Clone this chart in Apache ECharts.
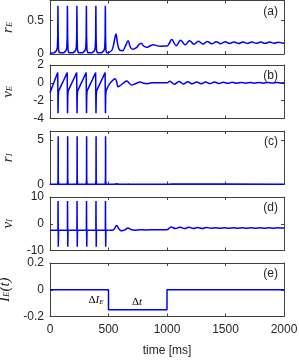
<!DOCTYPE html>
<html><head><meta charset="utf-8">
<script src="https://cdn.jsdelivr.net/npm/echarts@6/dist/echarts.min.js"></script>
<style>html,body{margin:0;padding:0;background:#fff}#c{width:299px;height:361px}</style>
</head><body><div id="c"></div>
<script>
// ---------- data ----------
const xTicks = [0, 500, 1000, 1500, 2000];
const yTicksA = [0, 0.5];
const yTicksB = [-4, -2, 0, 2];
const yTicksC = [0, 5];
const yTicksD = [-10, 0, 10];
const yTicksE = [-0.2, 0, 0.2];

// r_E : spiking part
const rE1_t = [0, 38,56,63,66,68,70,73,80, 119,137,144,147,149,151,154,161, 200,218,225,228,230,232,235,242,
  281,299,306,309,311,313,316,323, 362,380,387,390,392,394,397,404, 443,461,468,471,473,475,478,485, 500];
const rE1_v = [0.01, 0.02,0.05,0.1,0.25,0.72,0.25,0.06,0.02, 0.02,0.05,0.1,0.25,0.72,0.25,0.06,0.02,
  0.02,0.05,0.1,0.25,0.72,0.25,0.06,0.02, 0.02,0.05,0.1,0.25,0.72,0.25,0.06,0.02,
  0.02,0.05,0.1,0.25,0.72,0.25,0.06,0.02, 0.02,0.05,0.1,0.25,0.72,0.25,0.06,0.02, 0.02];
// r_E : oscillating part
const rE2_t = [500,530,548,564,578,595,620,645,668,685,705,735,760,780,800,825,855,880,910,940,970,1000,
  1020,1040,1078,1117,1155,1193,1231,1269,1307,1345,1383,1421,1459,1497,1535,1573,1611,1649,1687,1725,
  1763,1801,1839,1877,1915,1953,1990,2000];
const rE2_v = [0.02,0.06,0.18,0.30,0.15,0.06,0.05,0.12,0.20,0.11,0.07,0.09,0.14,0.16,0.12,0.10,0.12,0.14,0.125,0.115,0.12,0.12,
  0.16,0.215,0.125,0.205,0.138,0.197,0.145,0.192,0.149,0.188,0.152,0.185,0.154,0.183,0.156,0.181,0.157,0.18,0.158,0.179,
  0.16,0.178,0.16,0.178,0.161,0.177,0.162,0.17];

// v_E
const vE1_t = [0,66,69,71,74,110,147,150,152,155,191,228,231,233,236,272,309,312,314,317,353,390,393,395,398,434,471,474,476,479,500];
const vE1_v = [-1.1,1.15,-3.4,-1.5,-0.9,0.1,1.15,-3.4,-1.5,-0.9,0.1,1.15,-3.4,-1.5,-0.9,0.1,1.15,-3.4,-1.5,-0.9,0.1,1.15,-3.4,-1.5,-0.9,0.1,1.15,-3.4,-1.5,-0.9,-0.3];
const vE2_t = [500,530,556,570,582,600,630,655,675,698,730,770,800,830,870,900,950,1000,
  1025,1063,1102,1140,1178,1216,1254,1292,1330,1368,1406,1444,1482,1520,1558,1596,1634,1672,1710,1748,1786,1824,1862,1900,1938,1976,2000];
const vE2_v = [-0.3,0.2,0.45,0.1,-0.45,-0.3,0.0,0.2,0.0,-0.25,-0.1,0.08,-0.05,-0.1,0.0,0.02,0.0,0.0,
  0.18,-0.15,0.15,-0.13,0.12,-0.11,0.1,-0.09,0.09,-0.08,0.08,-0.07,0.07,-0.06,0.06,-0.05,0.05,-0.05,0.05,-0.04,0.04,-0.04,0.04,-0.03,0.03,-0.03,0.0];

// r_I
const rI1_t = [0, 66,69,70,71,74, 147,150,151,152,155, 228,231,232,233,236, 309,312,313,314,317, 390,393,394,395,398, 471,474,475,476,479, 500];
const rI1_v = [0.02, 0.02,0.5,5.4,0.5,0.02, 0.02,0.5,5.4,0.5,0.02, 0.02,0.5,5.4,0.5,0.02, 0.02,0.5,5.4,0.5,0.02, 0.02,0.5,5.4,0.5,0.02, 0.02,0.5,5.4,0.5,0.02, 0.02];
const rI2_t = [500,550,570,590,650,670,690,1000,1040,2000];
const rI2_v = [0.02,0.03,0.09,0.03,0.03,0.05,0.03,0.03,0.05,0.04];

// v_I
const vI1_t = [0, 68,69,71,73, 149,150,152,154, 230,231,233,235, 311,312,314,316, 392,393,395,397, 473,474,476,478, 500];
const vI1_v = [-2.4, -2.4,8.5,-8.6,-2.4, -2.4,8.5,-8.6,-2.4, -2.4,8.5,-8.6,-2.4, -2.4,8.5,-8.6,-2.4, -2.4,8.5,-8.6,-2.4, -2.4,8.5,-8.6,-2.4, -2.4];
const vI2_t = [500,540,570,590,610,640,667,690,720,770,820,900,1000,
  1035,1073,1111,1149,1187,1225,1263,1301,1339,1377,1415,1453,1491,1529,1567,1605,1643,1681,1719,1757,1795,1833,1871,1909,1947,1985,2000];
const vI2_v = [-2.4,-2.3,-0.7,-2.0,-2.6,-2.3,-1.6,-2.1,-2.4,-2.2,-2.3,-2.2,-2.2,
  -1.2,-1.8,-1.3,-1.8,-1.35,-1.75,-1.4,-1.75,-1.4,-1.7,-1.45,-1.7,-1.45,-1.7,-1.45,-1.7,-1.5,-1.65,-1.5,-1.65,-1.5,-1.65,-1.5,-1.65,-1.52,-1.63,-1.58];

// I_E(t)
const IE_t = [0,500,500,1000,1000,2000];
const IE_v = [0,0,-0.15,-0.15,0,0];

// annotation anchors (data coords in panel e)
const annDI = [393, -0.08];
const annDt = [744, -0.096];

// ---------- chart ----------
const zip = (t, v) => t.map((x, i) => [x, v[i]]);
const chart = echarts.init(document.getElementById('c'), null, {renderer: 'canvas'});
const TOPS = [0.5, 65, 131, 197, 263], H = 53.5, LEFT = 50, RIGHT = 15;
const axCol = '#404040', txtCol = '#262626';
const sans = 'Liberation Sans, Arial, Helvetica, sans-serif';
const serif = 'Liberation Serif, Times New Roman, serif';
const rich = {
  m: {fontFamily: serif, fontStyle: 'italic', fontSize: 15, color: txtCol, padding: [0, 0, 3, 0]},
  s: {fontFamily: serif, fontStyle: 'italic', fontSize: 9, color: txtCol},
  n: {fontFamily: serif, fontSize: 15, color: txtCol, padding: [0, 0, 3, 0]}
};
const panels = [
  {name: '{m|r}{s|E}', min: 0, max: 0.8, ticks: yTicksA, segs: [[rE1_t, rE1_v, false], [rE2_t, rE2_v, 0.4]], tag: '(a)'},
  {name: '{m|v}{s|E}', min: -4, max: 2, ticks: yTicksB, segs: [[vE1_t, vE1_v, false], [vE2_t, vE2_v, 0.4]], tag: '(b)'},
  {name: '{m|r}{s|I}', min: 0, max: 6, ticks: yTicksC, segs: [[rI1_t, rI1_v, false], [rI2_t, rI2_v, 0.3]], tag: '(c)'},
  {name: '{m|v}{s|I}', min: -10, max: 10, ticks: yTicksD, segs: [[vI1_t, vI1_v, false], [vI2_t, vI2_v, 0.4]], tag: '(d)'},
  {name: '{m|I}{s|E}{n|(}{m|t}{n|)}', min: -0.2, max: 0.2, ticks: yTicksE, segs: [[IE_t, IE_v, false]], tag: '(e)'}
];
const fmt = v => String(v);
const grid = [], xAxis = [], yAxis = [], series = [], graphic = [];
panels.forEach((p, i) => {
  grid.push({left: LEFT, right: RIGHT, top: TOPS[i], height: H, containLabel: false, outerBoundsMode: 'none'});
  const last = i === panels.length - 1;
  const xBase = {type: 'value', gridIndex: i, min: 0, max: 2000, splitLine: {show: false},
    axisLine: {show: true, onZero: false, lineStyle: {color: axCol, width: 1}},
    axisTick: {show: true, inside: true, length: 3, customValues: xTicks, lineStyle: {color: axCol, width: 1}}};
  xAxis.push(Object.assign({}, xBase, {position: 'bottom',
    axisLabel: {show: last, customValues: xTicks, formatter: fmt, margin: 7, fontSize: 12, fontFamily: sans, color: txtCol},
    name: last ? 'time [ms]' : '', nameLocation: 'middle', nameGap: 28,
    nameTextStyle: {fontSize: 12, fontFamily: sans, color: txtCol}}));
  xAxis.push(Object.assign({}, xBase, {position: 'top', axisLabel: {show: false}}));
  const yBase = {type: 'value', gridIndex: i, min: p.min, max: p.max, splitLine: {show: false},
    axisLine: {show: true, onZero: false, lineStyle: {color: axCol, width: 1}},
    axisTick: {show: true, inside: true, length: 3, customValues: p.ticks, lineStyle: {color: axCol, width: 1}}};
  yAxis.push(Object.assign({}, yBase, {position: 'left',
    axisLabel: {show: true, customValues: p.ticks, formatter: fmt, margin: 6, fontSize: 12, fontFamily: sans, color: txtCol},
    name: p.name, nameLocation: 'middle', nameGap: 31, nameRotate: 90,
    nameTextStyle: {rich: rich, fontFamily: serif, fontStyle: 'italic'}}));
  yAxis.push(Object.assign({}, yBase, {position: 'right', axisLabel: {show: false}}));
  p.segs.forEach(s => {
    series.push({type: 'line', xAxisIndex: 2 * i, yAxisIndex: 2 * i, data: zip(s[0], s[1]),
      showSymbol: false, smooth: s[2], lineStyle: {color: '#0000ff', width: 1.5}, silent: true, animation: false});
  });
  graphic.push({type: 'text', id: 'tag' + i, right: 299 - 278, top: TOPS[i] + 5,
    style: {text: p.tag, fontSize: 12, fontFamily: sans, fill: txtCol}});
});
chart.setOption({animation: false, grid, xAxis, yAxis, series, graphic: {elements: graphic}});

const annRich = {
  n: {fontFamily: serif, fontSize: 11, color: txtCol},
  m: {fontFamily: serif, fontStyle: 'italic', fontSize: 11, color: txtCol},
  s: {fontFamily: serif, fontStyle: 'italic', fontSize: 7, color: txtCol, padding: [4, 0, 0, 0]}
};
const p1 = chart.convertToPixel({xAxisIndex: 8, yAxisIndex: 8}, annDI);
const p2 = chart.convertToPixel({xAxisIndex: 8, yAxisIndex: 8}, annDt);
chart.setOption({graphic: {elements: [
  {type: 'text', id: 'annDI', x: p1[0], y: p1[1], style: {text: '{n|Δ}{m|I}{s|E}', rich: annRich, align: 'center', verticalAlign: 'middle'}},
  {type: 'text', id: 'annDt', x: p2[0], y: p2[1], style: {text: '{n|Δ}{m|t}', rich: annRich, align: 'center', verticalAlign: 'middle'}}
]}});
</script></body></html>
